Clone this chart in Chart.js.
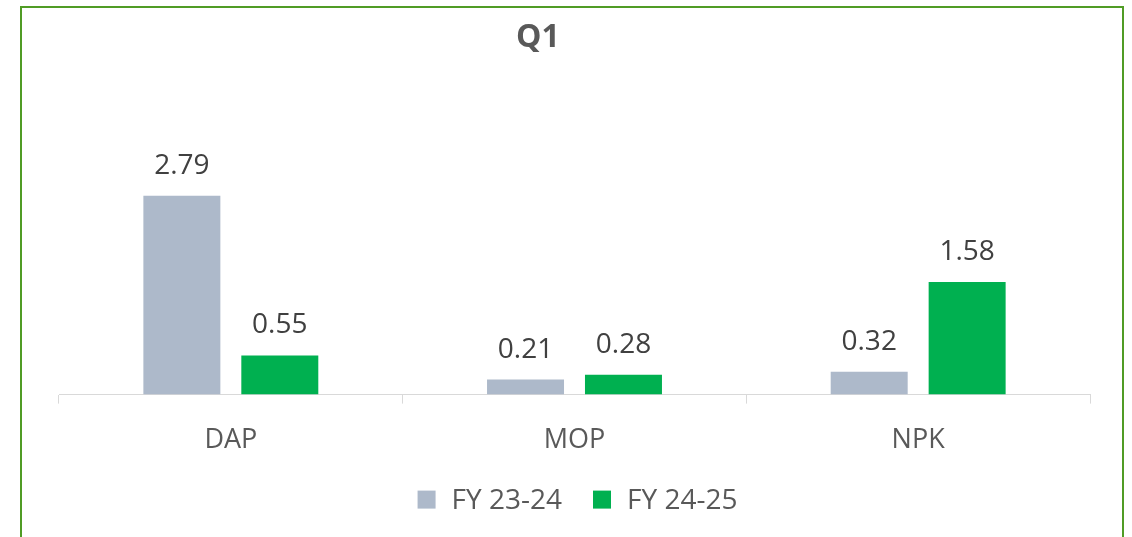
<!DOCTYPE html>
<html>
<head>
<meta charset="utf-8">
<script src="https://cdn.jsdelivr.net/npm/chart.js@4.4.0/dist/chart.umd.min.js"></script>
<style>
  html, body { margin: 0; padding: 0; background: #fff; overflow: hidden; }
  #frame {
    position: absolute; left: 20px; top: 6px;
    width: 1100px; height: 600px;
    border: 2px solid #509c25;
  }
  #wrap { position: absolute; left: 0; top: 0; width: 1100px; height: 529px; }
</style>
</head>
<body>
<div id="frame">
  <div id="wrap"><canvas id="myBarChart"></canvas></div>
</div>
<script>
const chartTitle = 'Q1';
const categories = ['DAP', 'MOP', 'NPK'];
const seriesNames = ['FY 23-24', 'FY 24-25'];
const seriesColors = ['#adb9ca', '#00b050'];
const fy2324 = [2.79, 0.21, 0.32];
const fy2425 = [0.55, 0.28, 1.58];

// draws the numbers over each bar
const barValues = {
    id: 'barValues',
    afterDatasetsDraw(chart) {
        const ctx = chart.ctx;
        ctx.save();
        ctx.font = '28px "Open Sans"';
        ctx.fillStyle = '#404040';
        ctx.textAlign = 'center';
        ctx.textBaseline = 'middle';
        chart.data.datasets.forEach((ds, i) => {
            chart.getDatasetMeta(i).data.forEach((bar, j) => {
                ctx.fillText(ds.data[j].toFixed(2), bar.x, bar.y - 30);
            });
        });
        ctx.restore();
    }
};

// title sits a bit left of centre in the original
const titleText = {
    id: 'titleText',
    afterDraw(chart) {
        const ctx = chart.ctx;
        ctx.save();
        ctx.font = 'bold 32px "Open Sans"';
        ctx.fillStyle = '#595959';
        ctx.textAlign = 'center';
        ctx.textBaseline = 'middle';
        ctx.fillText(chartTitle, 516, 30);
        ctx.restore();
    }
};

// legend drawn by hand so the spacing matches the original
const bottomLegend = {
    id: 'bottomLegend',
    afterDraw(chart) {
        const ctx = chart.ctx;
        const box = 18, gap = 16, itemGap = 31;
        const y = chart.chartArea.bottom + 105;
        ctx.save();
        ctx.font = '28px "Open Sans"';
        ctx.textBaseline = 'middle';
        ctx.textAlign = 'left';
        const items = chart.data.datasets.map(ds => ({
            text: ds.label, color: ds.backgroundColor,
            w: box + gap + ctx.measureText(ds.label).width
        }));
        const total = items.reduce((s, it) => s + it.w, 0) + itemGap * (items.length - 1);
        let x = (chart.chartArea.left + chart.chartArea.right) / 2 - total / 2 + 3;
        items.forEach(it => {
            ctx.fillStyle = it.color;
            ctx.fillRect(x, y - box / 2, box, box);
            ctx.fillStyle = '#595959';
            ctx.fillText(it.text, x + box + gap, y + 1);
            x += it.w + itemGap;
        });
        ctx.restore();
    }
};

const ctx = document.getElementById('myBarChart');
if (ctx) {
    new Chart(ctx.getContext('2d'), {
        type: 'bar',
        data: {
            labels: categories,
            datasets: [{
                label: seriesNames[0],
                data: fy2324,
                backgroundColor: seriesColors[0]
            }, {
                label: seriesNames[1],
                data: fy2425,
                backgroundColor: seriesColors[1]
            }]
        },
        options: {
            responsive: true,
            maintainAspectRatio: false,
            animation: false,
            categoryPercentage: 0.57,
            barPercentage: 0.786,
            layout: { padding: { top: 137, left: 37, right: 32, bottom: 59 } },
            scales: {
                x: {
                    grid: {
                        offset: true,
                        drawOnChartArea: false,
                        tickLength: 9,
                        color: '#d9d9d9'
                    },
                    border: { color: '#d9d9d9', width: 1 },
                    ticks: {
                        padding: 21,
                        color: '#595959',
                        font: { family: 'Open Sans', size: 27 }
                    }
                },
                y: {
                    display: false,
                    min: 0,
                    max: 3.5
                }
            },
            plugins: {
                legend: { display: false },
                title: { display: false },
                tooltip: { enabled: false }
            }
        },
        plugins: [barValues, titleText, bottomLegend]
    });
} else {
    console.error("Canvas element with id 'myBarChart' not found.");
}
</script>
</body>
</html>
